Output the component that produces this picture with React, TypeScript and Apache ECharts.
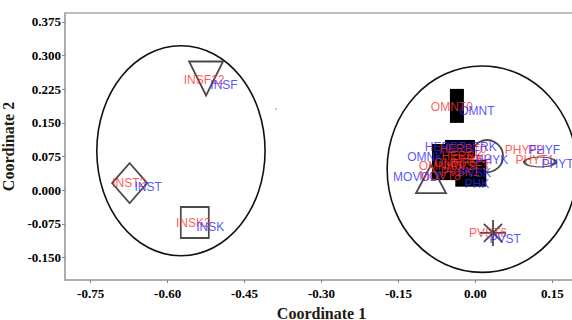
import React, { useEffect, useRef } from "react";
import * as echarts from "echarts";

// Axis ticks
const xTicks = [-0.75, -0.6, -0.45, -0.3, -0.15, 0, 0.15];
const yTicks = [-0.15, -0.075, 0, 0.075, 0.15, 0.225, 0.3, 0.375];

// Group ellipses (centre x, centre y, radius x, radius y) in data units
const groupCx = [-0.574, 0.013];
const groupCy = [0.088, 0.047];
const groupRx = [0.164, 0.185];
const groupRy = [0.234, 0.23];

// Marker points
const markerNames = ["INSF", "INST", "INSK", "OMNT", "PHYARC", "HERB1", "HERB2", "HERB3", "HERB4", "MOVT", "PHYT", "PVST", "DOT"];
const markerX = [-0.525, -0.674, -0.547, -0.036, 0.0226, -0.03, -0.069, -0.009, -0.04, -0.0865, 0.126, 0.0343, -0.389];
const markerY = [0.249, 0.016, -0.072, 0.188, 0.076, 0.092, 0.063, 0.038, 0.056, 0.025, 0.063, -0.095, 0.181];

// Red labels
const redLabels = ["INSF12", "INST2", "INSK2", "OMNT0", "HERBT0", "OMNK0", "PHYK2", "HERBK", "OMNF6", "PVSF3", "MOVT8", "PVSK1", "PHYF2", "PHYT1", "PVST6"];
const redX = [-0.529, -0.675, -0.55, -0.046, -0.024, -0.069, -0.007, -0.026, -0.04, -0.011, -0.069, -0.03, 0.095, 0.116, 0.0245];
const redY = [0.246, 0.016, -0.073, 0.186, 0.092, 0.054, 0.07, 0.076, 0.061, 0.054, 0.032, 0.041, 0.09, 0.067, -0.095];

// Blue labels
const blueLabels = ["INSF", "INST", "INSK", "OMNT", "HERBT", "HERK", "OMNK", "PHYK", "MOVOLT", "PVSK", "PHK", "PHYF", "PHYT", "PVST"];
const blueX = [-0.49, -0.638, -0.517, 0.003, -0.059, 0.009, -0.098, 0.032, -0.112, -0.001, 0.003, 0.134, 0.16, 0.058];
const blueY = [0.235, 0.007, -0.082, 0.177, 0.096, 0.096, 0.074, 0.067, 0.0295, 0.038, 0.014, 0.09, 0.058, -0.109];

// Marker styles (shape, size) — kept apart from values
const outline = "#4a4a4a";
const asterisk = "path://M10,0L10,20M0,10L20,10M3,3L17,17M3,17L17,3";
const markerStyles: any[] = [
  { symbol: "triangle", size: [34, 34], rotate: 180, fill: "none" },
  { symbol: "diamond", size: [35, 40], rotate: 0, fill: "none" },
  { symbol: "rect", size: [28, 31], rotate: 0, fill: "none" },
  { symbol: "rect", size: [14, 34], rotate: 0, fill: "#000" },
  { symbol: "circle", size: [32, 32], rotate: 0, fill: "none" },
  { symbol: "rect", size: [30, 18], rotate: 0, fill: "#000" },
  { symbol: "rect", size: [16, 36], rotate: 0, fill: "#000" },
  { symbol: "rect", size: [31, 27], rotate: 0, fill: "#000" },
  { symbol: "rect", size: [30, 30], rotate: 0, fill: "#000" },
  { symbol: "triangle", size: [30, 28], rotate: 0, fill: "none" },
  { symbol: "circle", size: [31, 10], rotate: 0, fill: "none" },
  { symbol: asterisk, size: [26, 26], rotate: 0, fill: "none" },
  { symbol: "circle", size: [2, 2], rotate: 0, fill: "#bbb" },
];

export default function App() {
  const ref = useRef<HTMLDivElement>(null);
  useEffect(() => {
    document.body.style.margin = "0";
    const chart = echarts.init(ref.current!, null, { renderer: "svg" });
    const axisLabelFont = {
      fontFamily: "Liberation Serif",
      fontWeight: "bold" as const,
      fontSize: 13,
      color: "#000",
    };
    const nameStyle = {
      fontFamily: "Liberation Serif",
      fontWeight: "bold" as const,
      fontSize: 16,
      color: "#1f1a10",
    };
    const labelSeries = (names: string[], xs: number[], ys: number[], color: string, z: number) => ({
      type: "scatter",
      z,
      symbolSize: 1,
      itemStyle: { color: "rgba(0,0,0,0)" },
      silent: true,
      label: {
        show: true,
        position: "inside",
        formatter: "{b}",
        color,
        fontSize: 12,
        fontFamily: "Liberation Sans",
      },
      data: names.map((n, i) => ({ name: n, value: [xs[i], ys[i]] })),
    });
    chart.setOption({
      animation: false,
      backgroundColor: "#fff",
      grid: {
        left: 65,
        top: 13,
        width: 513,
        height: 267,
        show: true,
        borderColor: "#a8a8a8",
        borderWidth: 1.5,
        containLabel: false,
        outerBoundsMode: "none",
      },
      xAxis: {
        type: "value",
        min: -0.8,
        max: 0.2,
        name: "Coordinate 1",
        nameLocation: "middle",
        nameGap: 25,
        nameTextStyle: nameStyle,
        splitLine: { show: false },
        axisLine: { show: true, onZero: false, lineStyle: { color: "#a8a8a8", width: 1.5 } },
        axisTick: { show: true, length: 3, customValues: xTicks, lineStyle: { color: "#888" } },
        axisLabel: {
          ...axisLabelFont,
          margin: 7,
          customValues: xTicks,
          formatter: (v: number) => v.toFixed(2),
        },
      },
      yAxis: {
        type: "value",
        min: -0.2,
        max: 0.395,
        name: "Coordinate 2",
        nameLocation: "middle",
        nameGap: 39,
        nameTextStyle: nameStyle,
        splitLine: { show: false },
        axisLine: { show: true, onZero: false, lineStyle: { color: "#a8a8a8", width: 1.5 } },
        axisTick: { show: true, length: 3, customValues: yTicks, lineStyle: { color: "#888" } },
        axisLabel: {
          ...axisLabelFont,
          margin: 4,
          customValues: yTicks,
          formatter: (v: number) => v.toFixed(3),
        },
      },
      series: [
        {
          type: "custom",
          z: 1,
          silent: true,
          renderItem: (params: any, api: any) => {
            const c = api.coord([api.value(0), api.value(1)]);
            const s = api.size([api.value(2), api.value(3)]);
            return {
              type: "ellipse",
              shape: { cx: c[0], cy: c[1], rx: s[0], ry: s[1] },
              style: { fill: "none", stroke: "#111", lineWidth: 1.6 },
            };
          },
          encode: { x: 0, y: 1 },
          data: groupCx.map((cx, i) => [cx, groupCy[i], groupRx[i], groupRy[i]]),
        },
        {
          type: "scatter",
          z: 2,
          silent: true,
          data: markerNames.map((n, i) => {
            const st = markerStyles[i];
            return {
              name: n,
              value: [markerX[i], markerY[i]],
              symbol: st.symbol,
              symbolSize: st.size,
              symbolRotate: st.rotate,
              itemStyle: {
                color: st.fill,
                borderColor: st.fill === "none" ? outline : st.fill,
                borderWidth: st.fill === "none" ? 1.8 : 0,
                opacity: 1,
              },
            };
          }),
        },
        labelSeries(redLabels, redX, redY, "#ff3030", 3),
        labelSeries(blueLabels, blueX, blueY, "#2828ff", 4),
      ],
    });
    return () => chart.dispose();
  }, []);
  return <div ref={ref} style={{ width: 572, height: 320 }} />;
}
